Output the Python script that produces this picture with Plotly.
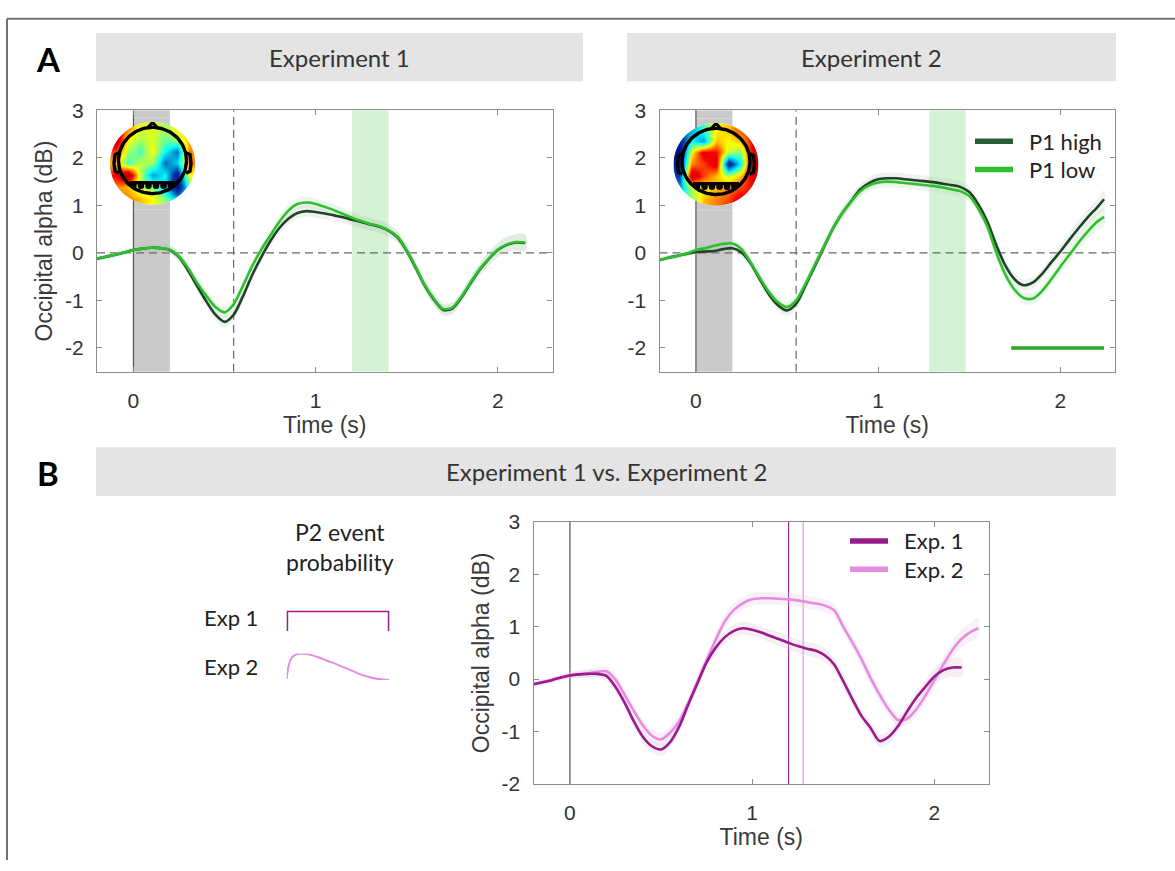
import numpy as np
import plotly.graph_objects as go

W, H = 1175, 871
def fx(p): return p / W
def fy(p): return 1 - p / H

# ---------------- data ----------------
t1 = [-0.20, -0.15, -0.10, -0.05, 0.00, 0.05, 0.10, 0.15, 0.20, 0.25, 0.30, 0.35, 0.40, 0.45, 0.50, 0.55,
      0.60, 0.65, 0.70, 0.75, 0.80, 0.85, 0.90, 0.95, 1.00, 1.05, 1.10, 1.15, 1.20, 1.25, 1.30, 1.35,
      1.40, 1.45, 1.50, 1.55, 1.60, 1.65, 1.70, 1.75, 1.80, 1.85, 1.90, 1.95, 2.00, 2.05, 2.10, 2.15]
t2 = [-0.20, -0.15, -0.10, -0.05, 0.00, 0.05, 0.10, 0.15, 0.20, 0.25, 0.30, 0.35, 0.40, 0.45, 0.50, 0.55,
      0.60, 0.65, 0.70, 0.75, 0.80, 0.85, 0.90, 0.95, 1.00, 1.05, 1.10, 1.15, 1.20, 1.25, 1.30, 1.35,
      1.40, 1.45, 1.50, 1.55, 1.60, 1.65, 1.70, 1.75, 1.80, 1.85, 1.90, 1.95, 2.00, 2.05, 2.10, 2.15,
      2.20, 2.24]

exp1_high = [-0.12, -0.08, -0.04, 0.01, 0.06, 0.09, 0.11, 0.10, 0.06, -0.09, -0.37, -0.70, -1.02, -1.30, -1.45, -1.30,
             -0.92, -0.48, -0.10, 0.24, 0.52, 0.72, 0.84, 0.88, 0.86, 0.83, 0.79, 0.75, 0.70, 0.65, 0.60, 0.55,
             0.47, 0.32, 0.04, -0.32, -0.70, -0.99, -1.20, -1.17, -0.94, -0.64, -0.36, -0.13, 0.06, 0.17, 0.22, 0.21]
exp1_low = [-0.12, -0.08, -0.04, 0.01, 0.06, 0.09, 0.11, 0.10, 0.07, -0.07, -0.32, -0.63, -0.90, -1.14, -1.25, -1.08,
            -0.70, -0.29, 0.06, 0.36, 0.65, 0.89, 1.03, 1.06, 1.03, 0.97, 0.90, 0.82, 0.74, 0.67, 0.61, 0.56,
            0.48, 0.34, 0.06, -0.30, -0.68, -0.97, -1.18, -1.15, -0.92, -0.62, -0.34, -0.12, 0.07, 0.18, 0.23, 0.22]
exp2_high = [-0.15, -0.10, -0.06, -0.02, 0.02, 0.03, 0.04, 0.08, 0.10, 0.01, -0.22, -0.55, -0.87, -1.10, -1.21, -1.07,
             -0.70, -0.30, 0.10, 0.50, 0.82, 1.08, 1.33, 1.47, 1.55, 1.57, 1.57, 1.55, 1.53, 1.51, 1.49, 1.46,
             1.43, 1.39, 1.28, 1.02, 0.65, 0.15, -0.28, -0.56, -0.68, -0.62, -0.44, -0.20, 0.03, 0.28, 0.52, 0.75,
             0.95, 1.13]
exp2_low = [-0.15, -0.10, -0.06, -0.01, 0.06, 0.10, 0.15, 0.19, 0.20, 0.08, -0.20, -0.52, -0.82, -1.04, -1.14, -1.00,
            -0.66, -0.27, 0.12, 0.50, 0.82, 1.07, 1.29, 1.42, 1.48, 1.50, 1.49, 1.47, 1.45, 1.43, 1.41, 1.38,
            1.34, 1.30, 1.20, 0.93, 0.55, -0.01, -0.47, -0.78, -0.95, -0.96, -0.80, -0.56, -0.29, -0.04, 0.22, 0.45,
            0.65, 0.76]
sem1 = [0.05, 0.05, 0.05, 0.05, 0.06, 0.07, 0.08, 0.08, 0.09, 0.10, 0.10, 0.11, 0.12, 0.12, 0.12, 0.12,
        0.11, 0.11, 0.11, 0.11, 0.12, 0.12, 0.12, 0.12, 0.12, 0.12, 0.12, 0.13, 0.13, 0.13, 0.13, 0.13,
        0.13, 0.12, 0.12, 0.12, 0.12, 0.12, 0.12, 0.12, 0.12, 0.12, 0.13, 0.14, 0.15, 0.16, 0.17, 0.18]
sem2 = [0.05, 0.05, 0.05, 0.05, 0.06, 0.07, 0.08, 0.08, 0.09, 0.10, 0.10, 0.11, 0.11, 0.12, 0.12, 0.12,
        0.11, 0.11, 0.11, 0.11, 0.12, 0.12, 0.12, 0.12, 0.12, 0.12, 0.12, 0.12, 0.12, 0.12, 0.12, 0.12,
        0.12, 0.12, 0.12, 0.12, 0.12, 0.12, 0.12, 0.12, 0.12, 0.12, 0.12, 0.13, 0.14, 0.15, 0.16, 0.17,
        0.18, 0.19]

# Panel B: experiment averages
expB1 = [-0.10, -0.06, -0.02, 0.03, 0.07, 0.09, 0.10, 0.10, 0.06, -0.15, -0.45, -0.80, -1.10, -1.28, -1.34, -1.20,
         -0.90, -0.48, -0.08, 0.32, 0.60, 0.80, 0.92, 0.97, 0.94, 0.89, 0.82, 0.76, 0.69, 0.63, 0.58, 0.54,
         0.45, 0.28, -0.04, -0.38, -0.70, -0.93, -1.18, -1.10, -0.90, -0.62, -0.36, -0.15, 0.05, 0.17, 0.22, 0.22]
expB2 = [-0.10, -0.06, -0.02, 0.03, 0.07, 0.09, 0.11, 0.14, 0.15, -0.01, -0.30, -0.60, -0.88, -1.08, -1.15, -1.02,
         -0.80, -0.45, -0.05, 0.36, 0.75, 1.10, 1.32, 1.45, 1.52, 1.54, 1.54, 1.53, 1.52, 1.50, 1.47, 1.44,
         1.40, 1.31, 1.00, 0.70, 0.38, 0.02, -0.30, -0.58, -0.78, -0.76, -0.58, -0.32, -0.02, 0.28, 0.56, 0.77,
         0.90, 0.97]

legend_A = ['P1 high', 'P1 low']
legend_B = ['Exp. 1', 'Exp. 2']

# time windows
baseline_win = [0.0, 0.2]
cue_line = 0.55
green_win1 = [1.2, 1.4]
green_win2 = [1.28, 1.48]
sig_win2 = [1.73, 2.24]
b_lines = [1.2, 1.28]

# P2 event probability (normalised time in interval, relative density)
p2_t_exp1 = [0.0, 0.0, 1.0, 1.0]
p2_p_exp1 = [0.0, 1.0, 1.0, 0.0]
p2_t_exp2 = [0.0, 0.02, 0.05, 0.10, 0.15, 0.20, 0.30, 0.40, 0.50, 0.60, 0.70, 0.80, 0.90, 1.00]
p2_p_exp2 = [0.04, 0.56, 0.85, 0.98, 1.00, 0.98, 0.87, 0.72, 0.57, 0.41, 0.24, 0.11, 0.03, 0.00]

# topographies (rows top->bottom, cols left->right)
topo1 = [[0.7, 0.4, 0.15, 0.15, 0.05, 0.2, 0.4],
         [0.8, 0.2, 0.05, 0.15, -0.05, 0.05, 0.3],
         [0.5, 0.05, -0.1, 0.2, -0.2, -0.5, 0.4],
         [0.3, -0.1, 0.1, 0.05, -0.5, -0.3, 0.4],
         [0.6, 0.9, 0.1, -0.4, -0.2, -0.8, 0.2],
         [0.4, 0.3, 0.1, 0.0, -0.3, -0.9, -0.1],
         [0.4, 0.4, 0.3, 0.2, 0.0, -0.3, -0.2]]
topo2 = [[-0.6, -0.4, -0.1, 0.2, 0.3, 0.5, 0.6],
         [-0.8, -0.2, -0.4, 0.3, 0.2, 0.3, 0.6],
         [-0.9, 0.2, 0.7, 0.6, 0.1, 0.0, 0.7],
         [-0.8, 0.4, 0.5, 0.7, -0.8, -0.2, 0.8],
         [-0.6, 0.8, 0.5, 0.3, 0.1, 0.3, 0.7],
         [-0.4, 0.1, 0.2, 0.3, 0.4, 0.5, 0.6],
         [-0.2, 0.0, 0.3, 0.4, 0.5, 0.7, 0.5]]

# ---------------- style ----------------
C_HIGH = '#1d4426'
C_HIGH_LEG = '#285c33'
C_LOW = '#2cc02c'
C_SIG = '#2aa52a'
C_E1 = '#9a1c8c'
C_E2 = '#e68be0'
AX_COL = '#8c8c8c'
TXT = '#333333'
SANS = 'Liberation Sans, Arial, sans-serif'
HUM = 'Lato, Open Sans, sans-serif'
TICK_FS = 21
TITLE_FS = 23

# plot boxes in pixels
A1 = dict(l=97, r=552.5, t=101, b=369.5)
A2 = dict(l=659.5, r=1115, t=101, b=369.5)
B = dict(l=533.5, r=989, t=523.5, b=793)
XR = [-0.2, 2.3]

fig = go.Figure()

def add_band(x, y, s, color, xa, ya):
    up = [a + b for a, b in zip(y, s)]
    lo = [a - b for a, b in zip(y, s)]
    fig.add_trace(go.Scatter(x=x + x[::-1], y=up + lo[::-1], fill='toself', fillcolor=color,
                             line=dict(width=0, shape='spline'), mode='lines', hoverinfo='skip',
                             showlegend=False, xaxis=xa, yaxis=ya))

def add_line(x, y, color, xa, ya, name, w=2.6):
    fig.add_trace(go.Scatter(x=x, y=y, mode='lines', name=name,
                             line=dict(color=color, width=w, shape='spline', smoothing=0.8),
                             hoverinfo='skip', showlegend=False, xaxis=xa, yaxis=ya))

# Panel A1
add_band(t1, exp1_high, sem1, 'rgba(185,195,185,0.22)', 'x', 'y')
add_band(t1, exp1_low, sem1, 'rgba(175,215,175,0.22)', 'x', 'y')
add_line(t1, exp1_high, C_HIGH, 'x', 'y', legend_A[0])
add_line(t1, exp1_low, C_LOW, 'x', 'y', legend_A[1])
# Panel A2
add_band(t2, exp2_high, sem2, 'rgba(185,195,185,0.22)', 'x2', 'y2')
add_band(t2, exp2_low, sem2, 'rgba(175,215,175,0.22)', 'x2', 'y2')
add_line(t2, exp2_high, C_HIGH, 'x2', 'y2', legend_A[0])
add_line(t2, exp2_low, C_LOW, 'x2', 'y2', legend_A[1])
fig.add_trace(go.Scatter(x=sig_win2, y=[-2, -2], mode='lines', line=dict(color=C_SIG, width=3.5),
                         hoverinfo='skip', showlegend=False, xaxis='x2', yaxis='y2'))
# Panel B
add_band(t2, expB2, sem2, 'rgba(225,195,225,0.25)', 'x3', 'y3')
add_band(t1, expB1, sem1, 'rgba(215,190,215,0.25)', 'x3', 'y3')
add_line(t2, expB2, C_E2, 'x3', 'y3', legend_B[1])
add_line(t1, expB1, C_E1, 'x3', 'y3', legend_B[0])

# P2 event probability mini plots
fig.add_trace(go.Scatter(x=p2_t_exp1, y=p2_p_exp1, mode='lines', line=dict(color=C_E1, width=3),
                         hoverinfo='skip', showlegend=False, xaxis='x6', yaxis='y6'))
fig.add_trace(go.Scatter(x=p2_t_exp2, y=p2_p_exp2, mode='lines', line=dict(color=C_E2, width=2, shape='spline'),
                         hoverinfo='skip', showlegend=False, xaxis='x7', yaxis='y7'))

# ---------------- topographies ----------------
R = 42.5       # disc radius (px)
S = 47         # half size of the topography sub-axes (px)
n = len(topo1)
cell = 2 * R / n
theta = np.linspace(0, 2 * np.pi, 121)
head_x = list(34 * np.cos(theta))
head_y = list(3 + 34 * np.sin(theta))

TOPOS = [
    dict(z=topo1, cx=152.5, cy=155.5, xa='x4', ya='y4', box=A1),
    dict(z=topo2, cx=716.0, cy=156.5, xa='x5', ya='y5', box=A2),
]
shapes = []
for tp in TOPOS:
    fig.add_trace(go.Heatmap(z=tp['z'][::-1], x0=-R + cell / 2, dx=cell, y0=-R + cell / 2, dy=cell,
                             colorscale='Jet', zmin=-1, zmax=1, zsmooth='best', showscale=False,
                             hoverinfo='skip', xaxis=tp['xa'], yaxis=tp['ya']))
    # head outline
    fig.add_trace(go.Scatter(x=head_x, y=head_y, mode='lines', line=dict(color='black', width=3.4),
                             hoverinfo='skip', showlegend=False, xaxis=tp['xa'], yaxis=tp['ya']))
    fig.add_trace(go.Scatter(x=[-5, 0, 5], y=[36.5, 42, 36.5], mode='lines', line=dict(color='black', width=3),
                             hoverinfo='skip', showlegend=False, xaxis=tp['xa'], yaxis=tp['ya']))
    for sgn in (-1, 1):
        fig.add_trace(go.Scatter(x=[sgn * 33.5, sgn * 37.5, sgn * 38.5, sgn * 37.5, sgn * 33.5],
                                 y=[11, 9, 0, -8, -10], mode='lines', line=dict(color='black', width=3.4),
                                 hoverinfo='skip', showlegend=False, xaxis=tp['xa'], yaxis=tp['ya']))
    fig.add_trace(go.Scatter(x=[-23, 23], y=[-20, -20], mode='lines', line=dict(color='black', width=3.5),
                             hoverinfo='skip', showlegend=False, xaxis=tp['xa'], yaxis=tp['ya']))
    fig.add_trace(go.Scatter(x=[-19, -11.5, -4, 3.5, 11, 18.5], y=[-23] * 6, mode='markers',
                             marker=dict(color='black', size=6.5, symbol='circle'),
                             hoverinfo='skip', showlegend=False, xaxis=tp['xa'], yaxis=tp['ya']))
    # white mask outside the disc
    sq = f"M{-S-3},{-S-3} L{S+3},{-S-3} L{S+3},{S+3} L{-S-3},{S+3} Z "
    circ = "M" + " L".join(f"{R*np.cos(a):.2f},{R*np.sin(a):.2f}" for a in theta[:-1]) + " Z"
    shapes.append(dict(type='path', path=sq + circ, fillcolor='white', fillrule='evenodd',
                       line=dict(width=0), xref=tp['xa'], yref=tp['ya'], layer='above'))
    # restore the grey baseline band behind the disc
    box = tp['box']
    pxu = (box['r'] - box['l']) / (XR[1] - XR[0])
    bx0 = box['l'] + (baseline_win[0] - XR[0]) * pxu - tp['cx']
    bx1 = box['l'] + (baseline_win[1] - XR[0]) * pxu - tp['cx']
    xs = np.linspace(bx1, bx0, 25)
    for sgn in (1, -1):
        arc = " L".join(f"{x:.2f},{sgn*np.sqrt(R*R - x*x):.2f}" for x in xs)
        p = f"M{bx0:.2f},{sgn*(S+3)} L{bx1:.2f},{sgn*(S+3)} L{arc} Z"
        shapes.append(dict(type='path', path=p, fillcolor='#c9c9c9', line=dict(width=0),
                           xref=tp['xa'], yref=tp['ya'], layer='above'))
        yb = sgn * np.sqrt(R * R - bx0 * bx0)
        shapes.append(dict(type='line', x0=bx0, x1=bx0, y0=yb, y1=sgn * (S + 3), line=dict(color='#555', width=1.2),
                           xref=tp['xa'], yref=tp['ya'], layer='above'))

# ---------------- shapes for panels ----------------
for xa, ya, gw in (('x', 'y', green_win1), ('x2', 'y2', green_win2)):
    shapes.append(dict(type='rect', xref=xa, yref=ya, x0=baseline_win[0], x1=baseline_win[1], y0=-2.5, y1=3,
                       fillcolor='#c9c9c9', line=dict(width=0), layer='below'))
    shapes.append(dict(type='line', xref=xa, yref=ya, x0=0, x1=0, y0=-2.5, y1=3,
                       line=dict(color='#555', width=1.2), layer='below'))
    shapes.append(dict(type='rect', xref=xa, yref=ya, x0=gw[0], x1=gw[1], y0=-2.5, y1=3,
                       fillcolor='#d4f3d4', line=dict(width=0), layer='below'))
    shapes.append(dict(type='line', xref=xa, yref=ya, x0=XR[0], x1=XR[1], y0=0, y1=0,
                       line=dict(color='#666', width=1.2, dash='8px,5px'), layer='below'))
    shapes.append(dict(type='line', xref=xa, yref=ya, x0=cue_line, x1=cue_line, y0=-2.5, y1=3,
                       line=dict(color='#666', width=1.2, dash='8px,5px'), layer='below'))
shapes.append(dict(type='line', xref='x3', yref='y3', x0=0, x1=0, y0=-2, y1=3,
                   line=dict(color='#555', width=1.2), layer='below'))
shapes.append(dict(type='line', xref='x3', yref='y3', x0=b_lines[0], x1=b_lines[0], y0=-2, y1=3,
                   line=dict(color=C_E1, width=1.1), layer='below'))
shapes.append(dict(type='line', xref='x3', yref='y3', x0=b_lines[1], x1=b_lines[1], y0=-2, y1=3,
                   line=dict(color=C_E2, width=1.1), layer='below'))

# header bars
for x0, x1, y0, y1 in ((96, 583, 21.5, 71), (627, 1116, 21.5, 71), (96, 1116, 447, 497)):
    shapes.append(dict(type='rect', xref='paper', yref='paper', x0=fx(x0), x1=fx(x1), y0=fy(y1), y1=fy(y0),
                       fillcolor='#e4e4e4', line=dict(width=0), layer='below'))
# outer frame (left and top)
shapes.append(dict(type='line', xref='paper', yref='paper', x0=fx(7), x1=fx(7), y0=0, y1=fy(7),
                   line=dict(color='#707070', width=2)))
shapes.append(dict(type='line', xref='paper', yref='paper', x0=fx(7), x1=1, y0=fy(7), y1=fy(7),
                   line=dict(color='#707070', width=2)))

# ---------------- annotations ----------------
ann = []
def text(s, x, y, size=21, color=TXT, family=HUM, xanchor='center', bold=False):
    ann.append(dict(text=f"<b>{s}</b>" if bold else s, x=fx(x), y=fy(y), xref='paper', yref='paper',
                    showarrow=False, xanchor=xanchor, yanchor='middle', font=dict(size=size, color=color, family=family)))
text('Experiment 1', 339.5, 47, size=24)
text('Experiment 2', 871.5, 47, size=24)
text('Experiment 1 vs. Experiment 2', 606, 472, size=24)
text('A', 48, 48, size=33, color='black', bold=True)
text('B', 48, 474, size=33, color='black', bold=True)
text('P2 event<br>probability', 340, 549, size=23, color='#222')
text('Exp 1', 260, 622, size=22, color='#222', xanchor='right')
text('Exp 2', 260, 672, size=22, color='#222', xanchor='right')

# legends (swatch + label)
for names, cols, xl, ys in ((legend_A, (C_HIGH_LEG, C_LOW), (975, 1013, 1027), (132.7, 161.7)),
                            (legend_B, (C_E1, C_E2), (850, 888, 902), (543.3, 572.3))):
    for nm, c, yy in zip(names, cols, ys):
        shapes.append(dict(type='line', xref='paper', yref='paper', x0=fx(xl[0]), x1=fx(xl[1]),
                           y0=fy(yy), y1=fy(yy), line=dict(color=c, width=5.5)))
        text(nm, xl[2], yy, size=22, color='#222', xanchor='left')

# ---------------- axes ----------------
def main_x(box):
    return dict(domain=[fx(box['l']), fx(box['r'])], range=XR, showline=True, linecolor=AX_COL, linewidth=1.3,
                mirror='ticks', ticks='inside', ticklen=5, tickcolor=AX_COL, tickwidth=1.2,
                tickvals=[0, 1, 2], ticktext=['0', '1', '2'], showgrid=False, zeroline=False,
                tickfont=dict(family=SANS, size=TICK_FS, color=TXT), ticklabelstandoff=10,
                title=dict(text='Time (s)', font=dict(family=SANS, size=TITLE_FS, color='#3a3a3a'), standoff=5),
                fixedrange=True)

def main_y(box, rng, title=True):
    vals = list(range(int(np.ceil(rng[0])), int(rng[1]) + 1))
    d = dict(domain=[fy(box['b']), fy(box['t'])], range=rng, showline=True, linecolor=AX_COL, linewidth=1.3,
             mirror='ticks', ticks='inside', ticklen=5, tickcolor=AX_COL, tickwidth=1.2,
             tickvals=vals, ticktext=[str(v) for v in vals], showgrid=False, zeroline=False,
             tickfont=dict(family=SANS, size=TICK_FS, color=TXT), ticklabelstandoff=8, fixedrange=True)
    if title:
        d['title'] = dict(text='Occipital alpha (dB)', font=dict(family=SANS, size=TITLE_FS, color='#3a3a3a'),
                          standoff=5)
    return d

def hidden(dom, rng):
    return dict(domain=dom, range=rng, visible=False, showgrid=False, zeroline=False, fixedrange=True)

layout = dict(
    width=W, height=H, margin=dict(l=0, r=0, t=0, b=0),
    paper_bgcolor='white', plot_bgcolor='rgba(0,0,0,0)',
    xaxis=dict(main_x(A1), anchor='y'),
    yaxis=dict(main_y(A1, [-2.5, 3]), anchor='x'),
    xaxis2=dict(main_x(A2), anchor='y2'),
    yaxis2=dict(main_y(A2, [-2.5, 3], title=False), anchor='x2'),
    xaxis3=dict(main_x(B), anchor='y3'),
    yaxis3=dict(main_y(B, [-2, 3]), anchor='x3'),
    xaxis4=dict(hidden([fx(152.5 - S), fx(152.5 + S)], [-S, S]), anchor='y4'),
    yaxis4=dict(hidden([fy(155.5 + S), fy(155.5 - S)], [-S, S]), anchor='x4'),
    xaxis5=dict(hidden([fx(716 - S), fx(716 + S)], [-S, S]), anchor='y5'),
    yaxis5=dict(hidden([fy(156.5 + S), fy(156.5 - S)], [-S, S]), anchor='x5'),
    xaxis6=dict(hidden([fx(286.7), fx(389.3)], [0, 1]), anchor='y6'),
    yaxis6=dict(hidden([fy(636), fy(615)], [0, 1]), anchor='x6'),
    xaxis7=dict(hidden([fx(286.7), fx(389.3)], [0, 1]), anchor='y7'),
    yaxis7=dict(hidden([fy(686), fy(659)], [0, 1]), anchor='x7'),
    shapes=shapes,
    annotations=ann,
    showlegend=False,
)
fig.update_layout(layout)
fig.write_html("out.html", config=dict(displayModeBar=False),
               post_script="document.documentElement.style.margin='0';document.body.style.margin='0';"
                           "document.body.style.overflow='hidden';")
